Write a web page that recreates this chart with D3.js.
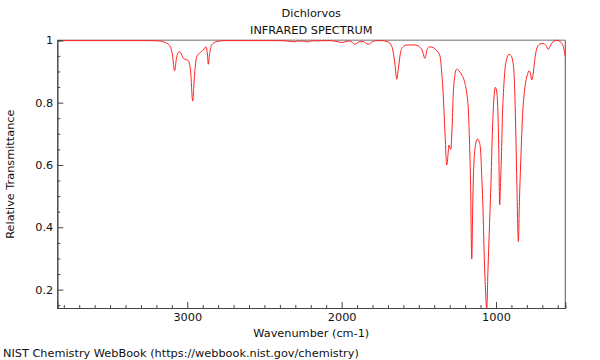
<!DOCTYPE html>
<html>
<head>
<meta charset="utf-8">
<script src="https://cdn.jsdelivr.net/npm/d3@7"></script>
<style>
  html, body { margin: 0; padding: 0; background: #fff; }
  svg { display: block; font-family: "DejaVu Sans", sans-serif; }
</style>
</head>
<body>
<svg id="chart" width="600" height="360"></svg>
<script>
const title = "Dichlorvos";
const subtitle = "INFRARED SPECTRUM";
const xLabel = "Wavenumber (cm-1)";
const yLabel = "Relative Transmittance";
const footer = "NIST Chemistry WebBook (https://webbook.nist.gov/chemistry)";

const xDomain = [3842, 551];
const yDomain = [0.141, 1.0];
const xTickValues = [3000, 2000, 1000];
const yTickValues = [0.2, 0.4, 0.6, 0.8, 1];

const wavenumber = [
  3842, 3242, 3177, 3144, 3112, 3096, 3082, 3070, 3054, 3041, 3026, 2994, 2979, 2965, 2953, 2939,
  2896, 2879, 2869, 2864, 2856, 2842, 2810, 2756, 2399, 2322, 2302, 2283, 2237, 2218, 2199, 2076,
  2030, 1998, 1972, 1946, 1914, 1888, 1862, 1827, 1803, 1773, 1739, 1700, 1677, 1666, 1654, 1643,
  1632, 1619, 1603, 1577, 1525, 1499, 1479, 1460, 1447, 1431, 1408, 1389, 1363, 1353, 1341, 1330,
  1319, 1311, 1305, 1293, 1285, 1277, 1266, 1256, 1240, 1222, 1201, 1188, 1179, 1172, 1165, 1157,
  1150, 1143, 1130, 1119, 1108, 1100, 1093, 1084, 1078, 1068, 1060, 1052, 1043, 1032, 1023, 1016,
  1005, 995, 988, 982, 976, 970, 963, 958, 953, 942, 929, 916, 903, 893, 883, 877,
  872, 864, 855, 848, 840, 827, 812, 797, 786, 776, 769, 760, 754, 741, 728, 715,
  694, 676, 661, 650, 639, 624, 607, 592, 574, 562, 551
];
const transmittance = [
  0.999, 0.999, 0.998, 0.993, 0.982, 0.953, 0.902, 0.943, 0.963, 0.959, 0.942, 0.935, 0.905, 0.805, 0.889, 0.947,
  0.969, 0.979, 0.953, 0.923, 0.953, 0.985, 0.996, 0.999, 0.999, 0.996, 0.995, 0.998, 0.997, 0.995, 0.998, 0.999,
  0.996, 0.993, 0.996, 0.998, 0.987, 0.995, 0.996, 0.987, 0.995, 0.999, 0.999, 0.995, 0.983, 0.962, 0.921, 0.875,
  0.911, 0.959, 0.979, 0.985, 0.985, 0.980, 0.969, 0.942, 0.969, 0.979, 0.977, 0.969, 0.950, 0.905, 0.818, 0.696,
  0.600, 0.632, 0.664, 0.650, 0.712, 0.825, 0.889, 0.907, 0.902, 0.889, 0.862, 0.825, 0.776, 0.680, 0.552, 0.298,
  0.488, 0.606, 0.671, 0.683, 0.674, 0.648, 0.573, 0.455, 0.338, 0.199, 0.138, 0.263, 0.392, 0.552, 0.712, 0.792,
  0.849, 0.834, 0.776, 0.648, 0.472, 0.552, 0.659, 0.760, 0.819, 0.905, 0.943, 0.955, 0.951, 0.937, 0.894, 0.809,
  0.712, 0.520, 0.354, 0.488, 0.606, 0.766, 0.851, 0.889, 0.902, 0.892, 0.873, 0.889, 0.915, 0.963, 0.982, 0.988,
  0.990, 0.983, 0.971, 0.980, 0.990, 0.998, 1.000, 0.998, 0.990, 0.977, 0.947
];

const margin = { left: 57.3, right: 600 - 565.3, top: 40.3, bottom: 360 - 308 };
const W = 600, H = 360;
const FS = 11.3;
const svg = d3.select("#chart");

const x = d3.scaleLinear().domain(xDomain).range([margin.left, W - margin.right]);
const y = d3.scaleLinear().domain(yDomain).range([H - margin.bottom, margin.top]);

const x0 = margin.left, x1 = W - margin.right, y0 = margin.top, y1 = H - margin.bottom;

svg.append("defs").append("clipPath").attr("id", "clip")
  .append("rect").attr("x", x0).attr("y", y0 - 1).attr("width", x1 - x0).attr("height", y1 - y0 + 1);

// frame top (grey) and right
svg.append("line").attr("x1", x0).attr("x2", x1).attr("y1", y0).attr("y2", y0)
  .attr("stroke", "#a0a0a0").attr("stroke-width", 1.5);
svg.append("line").attr("x1", x1).attr("x2", x1).attr("y1", y0).attr("y2", y1)
  .attr("stroke", "#555").attr("stroke-width", 1);

const data = wavenumber.map((w, i) => ({ w, t: transmittance[i] }));
const line = d3.line().x(d => x(d.w)).y(d => y(d.t)).curve(d3.curveMonotoneX);
svg.append("path").datum(data)
  .attr("clip-path", "url(#clip)")
  .attr("fill", "none").attr("stroke", "#ff2020").attr("stroke-width", 1)
  .attr("d", line);

// X axis
const xMinor = d3.range(600, 3842, 100).filter(v => !xTickValues.includes(v));
const xAxisMinor = d3.axisBottom(x).tickValues(xMinor).tickSize(-3).tickFormat("");
const xAxis = d3.axisBottom(x).tickValues(xTickValues).tickSize(-6).tickPadding(5).tickFormat(d3.format("d"));
const gxm = svg.append("g").attr("transform", `translate(0,${y1})`).call(xAxisMinor);
const gx = svg.append("g").attr("transform", `translate(0,${y1})`).call(xAxis);
[gx, gxm].forEach(g => {
  g.select(".domain").attr("stroke", "#444");
  g.selectAll(".tick line").attr("stroke", "#444");
});
gx.selectAll(".tick text").attr("font-size", FS).attr("fill", "#111")
  .attr("font-family", "DejaVu Sans, sans-serif");

// Y axis
const yMinor = d3.range(0.15, 1.0, 0.05).map(v => +v.toFixed(2)).filter(v => !yTickValues.includes(v));
const yAxisMinor = d3.axisLeft(y).tickValues(yMinor).tickSize(-3).tickFormat("");
const yAxis = d3.axisLeft(y).tickValues(yTickValues).tickSize(-6).tickPadding(4)
  .tickFormat(d => d === 1 ? "1" : d3.format(".1f")(d));
const gym = svg.append("g").attr("transform", `translate(${x0},0)`).call(yAxisMinor);
const gy = svg.append("g").attr("transform", `translate(${x0},0)`).call(yAxis);
[gy, gym].forEach(g => {
  g.select(".domain").attr("stroke", "#444");
  g.selectAll(".tick line").attr("stroke", "#444");
});
gy.selectAll(".tick text").attr("font-size", FS).attr("fill", "#111")
  .attr("font-family", "DejaVu Sans, sans-serif");

// titles
const cx = (x0 + x1) / 2;
svg.append("text").attr("x", cx).attr("y", 17).attr("text-anchor", "middle")
  .attr("font-size", FS).attr("fill", "#111").text(title);
svg.append("text").attr("x", cx).attr("y", 34).attr("text-anchor", "middle")
  .attr("font-size", FS).attr("fill", "#111").text(subtitle);
svg.append("text").attr("x", cx).attr("y", 337).attr("text-anchor", "middle")
  .attr("font-size", FS).attr("fill", "#111").text(xLabel);
svg.append("text").attr("transform", `translate(14,${(y0 + y1) / 2}) rotate(-90)`)
  .attr("text-anchor", "middle").attr("font-size", FS).attr("fill", "#111").text(yLabel);
svg.append("text").attr("x", 3).attr("y", 357).attr("font-size", FS).attr("fill", "#111").text(footer);
</script>
</body>
</html>
